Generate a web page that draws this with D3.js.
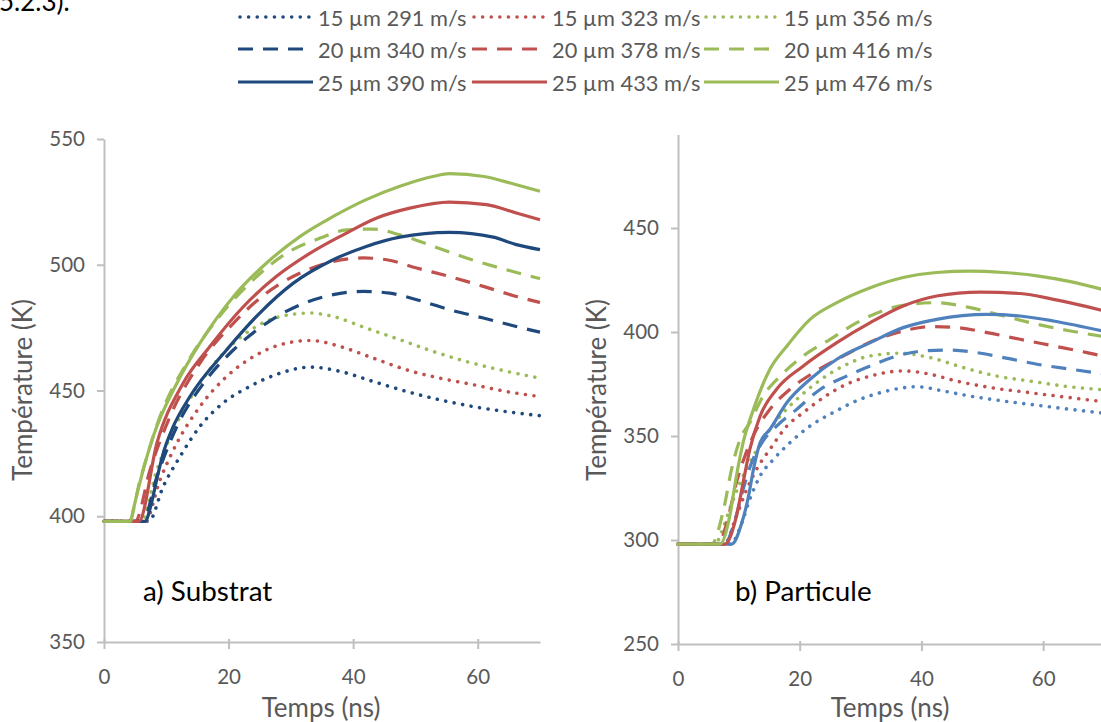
<!DOCTYPE html>
<html><head><meta charset="utf-8">
<script src="https://cdn.jsdelivr.net/npm/d3@7"></script>
<style>
body{margin:0;background:#fff}
svg{display:block}
text{font-family:Lato,"Open Sans",sans-serif}
</style>
</head><body>
<svg id="c" width="1101" height="722"></svg>
<script>
// ---------- DATA ----------
const legendLabels = [
  "15 µm 291 m/s","15 µm 323 m/s","15 µm 356 m/s",
  "20 µm 340 m/s","20 µm 378 m/s","20 µm 416 m/s",
  "25 µm 390 m/s","25 µm 433 m/s","25 µm 476 m/s"
];
const xTicks = [0,20,40,60];
const yTicksA = [350,400,450,500,550];
const yTicksB = [250,300,350,400,450];

// a) Substrat  [time ns, temperature K]
const a_15_291 = [[0,398],[7.2,398],[9.5,411.8],[12.2,423.7],[15.4,435.7],[19.1,445],[23.4,451.6],[28.3,456.9],[33.1,459.3],[37.9,457.6],[43.2,453.6],[48.6,449.6],[53.9,446.3],[59.3,443.6],[64.6,441.6],[70,440]];
const a_15_323 = [[0,398],[6.6,398],[9.0,414.5],[11.7,429.1],[15.4,443.6],[19.7,455.6],[24,463.5],[28.3,468.2],[33.1,469.9],[37.9,467.5],[43.2,462.9],[48.6,458.2],[53.9,454.9],[59.3,452.3],[64.6,449.6],[70,447.6]];
const a_15_356 = [[0,398],[6.0,398],[8.5,418.5],[11.7,437],[15.4,452.9],[19.7,466.2],[24,474.8],[28.3,479.4],[33.1,480.8],[36.8,479.4],[42.1,474.8],[47.5,470.2],[52.9,465.5],[58.2,461.5],[63.6,458.2],[70,454.9]];
const a_20_340 = [[0,398],[6.2,398],[8.5,415.8],[11.7,435.7],[16,452.9],[20.8,466.2],[26.1,476.8],[31.5,484.1],[36.8,488.1],[41.6,489.4],[45.9,488.7],[50.2,486.1],[55.5,482.1],[60.9,478.8],[68.4,474.1],[70,473.2]];
const a_20_378 = [[0,398],[5.0,398],[7.4,418.5],[10.6,439.7],[15.4,460.9],[20.8,476.8],[26.1,488.8],[31.5,496.7],[36.8,501.3],[41.6,502.7],[45.4,502],[50.2,498.7],[55.5,495.3],[60.9,491.4],[66.2,487.4],[70,485]];
const a_20_416 = [[0,398],[4.0,398],[5.8,414.5],[9.0,439.7],[13.3,460.9],[18.1,478.1],[23.4,492.7],[29.3,504.6],[34.7,510.6],[39,513.9],[43.2,514.2],[47.5,511.9],[52.9,507.3],[58.2,502.7],[63.6,498.7],[70,494.5]];
const a_25_390 = [[0,398],[6.6,398],[7.5,404],[8.5,415],[9.5,425],[11,435],[13.8,447.6],[19.7,466.2],[25,480.8],[30.4,492.7],[36.8,502],[42.1,507.3],[47.5,511],[55.5,512.9],[62.5,511],[66.2,508],[70,506]];
const a_25_433 = [[0,398],[5.6,398],[8.5,429.1],[12.7,452.9],[17,467.5],[22.4,483.4],[27.7,495.4],[33.1,504.6],[38.4,511.9],[43.8,518.6],[49.1,522.5],[55.5,524.9],[61.4,523.9],[66.2,520.6],[70,517.9]];
const a_25_476 = [[0,398],[4.3,398],[4.7,402.5],[7.9,431.7],[11.7,452.9],[15.4,468.8],[20.8,487.4],[26.1,500.7],[31.5,511.3],[36.8,519.2],[42.1,525.9],[47.5,531.2],[52.8,535.1],[55.5,536.2],[61,535.1],[66.2,531.8],[70,529.2]];

// b) Particule
const b_15_291 = [[0,298],[8.6,298],[10.5,308.4],[11.8,319.6],[13.5,330.8],[15.7,338.8],[18.4,346.8],[21.7,354.8],[25.5,361.3],[29.9,367.6],[34.3,371.6],[39.3,373.7],[43.6,371.6],[48,369.2],[53.5,366.8],[59,364.8],[64.5,362.8],[70,361]];
const b_15_323 = [[0,298],[7.6,298],[9.6,311.5],[11.3,324.4],[12.9,334],[15.1,343.6],[17.9,354.8],[20.6,361.3],[23.9,368.5],[27.7,374.9],[31.6,378.8],[37,381.3],[41.4,379.7],[45.8,376.4],[51.3,373.3],[56.8,371.2],[62.3,369.2],[70,366.5]];
const b_15_356 = [[0,298],[6.2,298],[6.9,301.9],[8.5,314.8],[10.2,327.6],[11.8,337.2],[14,348.4],[16.8,359.6],[19.5,367.6],[22.8,375.7],[27.2,383.7],[31.6,388.5],[36.5,389.8],[41.4,387.7],[46.9,382.9],[52.4,378.8],[57.9,376.4],[63.4,374],[70,372.2]];
const b_20_340 = [[0,298],[7.6,298],[9.4,309.9],[10.7,324.4],[12.1,337.2],[13.8,346.8],[16.2,354.8],[19.5,362.8],[23.4,372.5],[27.7,378.8],[31.6,383.7],[36,388.5],[40.3,390.9],[44.2,391.3],[49.1,390.1],[53.5,387.7],[59,384.5],[64.5,382.1],[70,379.9]];
const b_20_378 = [[0,298],[6.6,298],[8.3,311.5],[9.6,327.6],[11,340.4],[12.9,353.2],[15.1,362.8],[18.4,372.5],[22.3,380.5],[27.2,388.5],[32.7,396.5],[37,400.5],[41.4,402.6],[45.8,402.1],[50.8,399.7],[56.2,396.5],[61.7,393.3],[67.2,390.1],[70,388.3]];
const b_20_416 = [[0,298],[5.5,298],[7.5,314.8],[8.8,334],[10.2,348.4],[11.8,356.4],[14,369.2],[16.8,378.8],[20.6,388.5],[25,396.5],[29.4,404.5],[34.3,410.9],[38.2,413.3],[42.5,414.1],[48,411.7],[53.5,407.7],[59,403.7],[64.5,400.5],[70,397.8]];
const b_25_390 = [[0,298],[8.8,298],[10.5,308.4],[11.6,321.2],[12.4,334],[13.5,346.8],[15.1,353.2],[17.9,366.1],[21.7,377.3],[26.1,386.9],[31.6,394.9],[37,402.1],[42.5,406.1],[50.8,408.5],[56.2,407.7],[61.7,405.3],[70,400.3]];
const b_25_433 = [[0,298],[7.7,298],[9.6,311.5],[10.7,327.6],[11.8,343.6],[13.5,359.6],[16.2,372.5],[20.6,383.7],[26.1,394.9],[31.6,404.5],[37,412.5],[42.5,417.3],[49.7,419.2],[56.2,418.5],[61.7,415.7],[67.2,412.2],[70,410.2]];
const b_25_476 = [[0,298],[6.9,298],[8.5,311.5],[9.6,330.8],[10.7,346.8],[12.4,362.8],[15.1,382.1],[17.9,393.3],[21.7,406.1],[26.1,414.1],[31.6,421.3],[37,426.2],[42.5,428.6],[48,429.3],[53.5,428.6],[59,427],[64.5,424.2],[70,420.3]];

const seriesA = [a_15_291,a_15_323,a_15_356,a_20_340,a_20_378,a_20_416,a_25_390,a_25_433,a_25_476];
const seriesB = [b_15_291,b_15_323,b_15_356,b_20_340,b_20_378,b_20_416,b_25_390,b_25_433,b_25_476];

// ---------- STYLE ----------
const colorsA = ["#1F497D","#C0504D","#9BBB59"];
const colorsB = ["#4F81BD","#C0504D","#9BBB59"];
const dashes = ["0.01 8.6","15 10",null];
const widths = [3.6,3.2,3.2];
const caps = ["round","butt","butt"];
const gray = "#595959", axisGray = "#BFBFBF";

const svg = d3.select("#c");

// document text cut by the top edge (as in the reference)
svg.append("text").attr("x",-1).attr("y",11).attr("font-size",26).attr("fill","#000").text("5.2.3).");

function panel(series, colors, x, y, yTicks){
  const g = svg.append("g");
  const ya = g.append("g").attr("transform",`translate(${x.range()[0]},0)`)
    .call(d3.axisLeft(y).tickValues(yTicks).tickSize(7).tickSizeOuter(0).tickPadding(12));
  const xa = g.append("g").attr("transform",`translate(0,${y.range()[0]})`)
    .call(d3.axisBottom(x).tickValues(xTicks).tickSize(7).tickSizeOuter(0).tickPadding(20));
  [ya,xa].forEach(a=>{
    a.select(".domain").attr("stroke",axisGray).attr("stroke-width",2);
    a.selectAll(".tick line").attr("stroke",axisGray).attr("stroke-width",2);
    a.selectAll(".tick text").attr("fill",gray).attr("font-size",20.5).attr("font-family","Lato");
  });
  xa.selectAll(".tick line").attr("y1",-3);
  const line = d3.line().x(d=>x(d[0])).y(d=>y(d[1])).curve(d3.curveMonotoneX);
  series.forEach((s,i)=>{
    const size = Math.floor(i/3), sp = i%3;
    g.append("path").datum(s).attr("d",line).attr("fill","none")
      .attr("stroke",colors[sp]).attr("stroke-width",widths[size])
      .attr("stroke-linecap",caps[size]).attr("stroke-linejoin","round")
      .attr("stroke-dasharray",dashes[size]);
  });
  return g;
}

const xA = d3.scaleLinear().domain([0,70]).range([104,540]);
const yA = d3.scaleLinear().domain([350,550]).range([642,139]);
const xB = d3.scaleLinear().domain([0,70]).range([678,1104]);
const yB = d3.scaleLinear().domain([250,495]).range([644,134.4]);

panel(seriesA, colorsA, xA, yA, yTicksA);
panel(seriesB, colorsB, xB, yB, yTicksB);

// axis titles
[[22,390],[596,390]].forEach(p=>{
  svg.append("text").attr("transform",`translate(${p[0]},${p[1]}) rotate(-90)`)
    .attr("text-anchor","middle").attr("dominant-baseline","central")
    .attr("font-size",26).attr("fill",gray).text("Température (K)");
});
[[321,707],[890,707]].forEach(p=>{
  svg.append("text").attr("x",p[0]).attr("y",p[1]).attr("text-anchor","middle")
    .attr("dominant-baseline","central").attr("font-size",26).attr("fill",gray).text("Temps (ns)");
});
// panel labels
svg.append("text").attr("x",143).attr("y",601).attr("font-size",27.8).attr("fill","#000").text("a) Substrat");
svg.append("text").attr("x",735).attr("y",601).attr("font-size",27.8).attr("fill","#000").text("b) Particule");

// legend
const legX = [238,472,704], legTextX = [318,552,784], legY = [17,49,82];
legendLabels.forEach((lab,i)=>{
  const row = Math.floor(i/3), col = i%3;
  const lg = svg.append("g");
  lg.append("line").attr("x1",legX[col]+(row===0?2:0)).attr("x2",legX[col]+75)
    .attr("y1",legY[row]).attr("y2",legY[row])
    .attr("stroke",colorsA[col]).attr("stroke-width",widths[row])
    .attr("stroke-linecap",caps[row]).attr("stroke-dasharray",dashes[row]);
  lg.append("text").attr("x",legTextX[col]).attr("y",legY[row]).attr("dominant-baseline","central")
    .attr("font-size",21.8).attr("fill",gray).text(lab);
});
</script>
</body></html>
